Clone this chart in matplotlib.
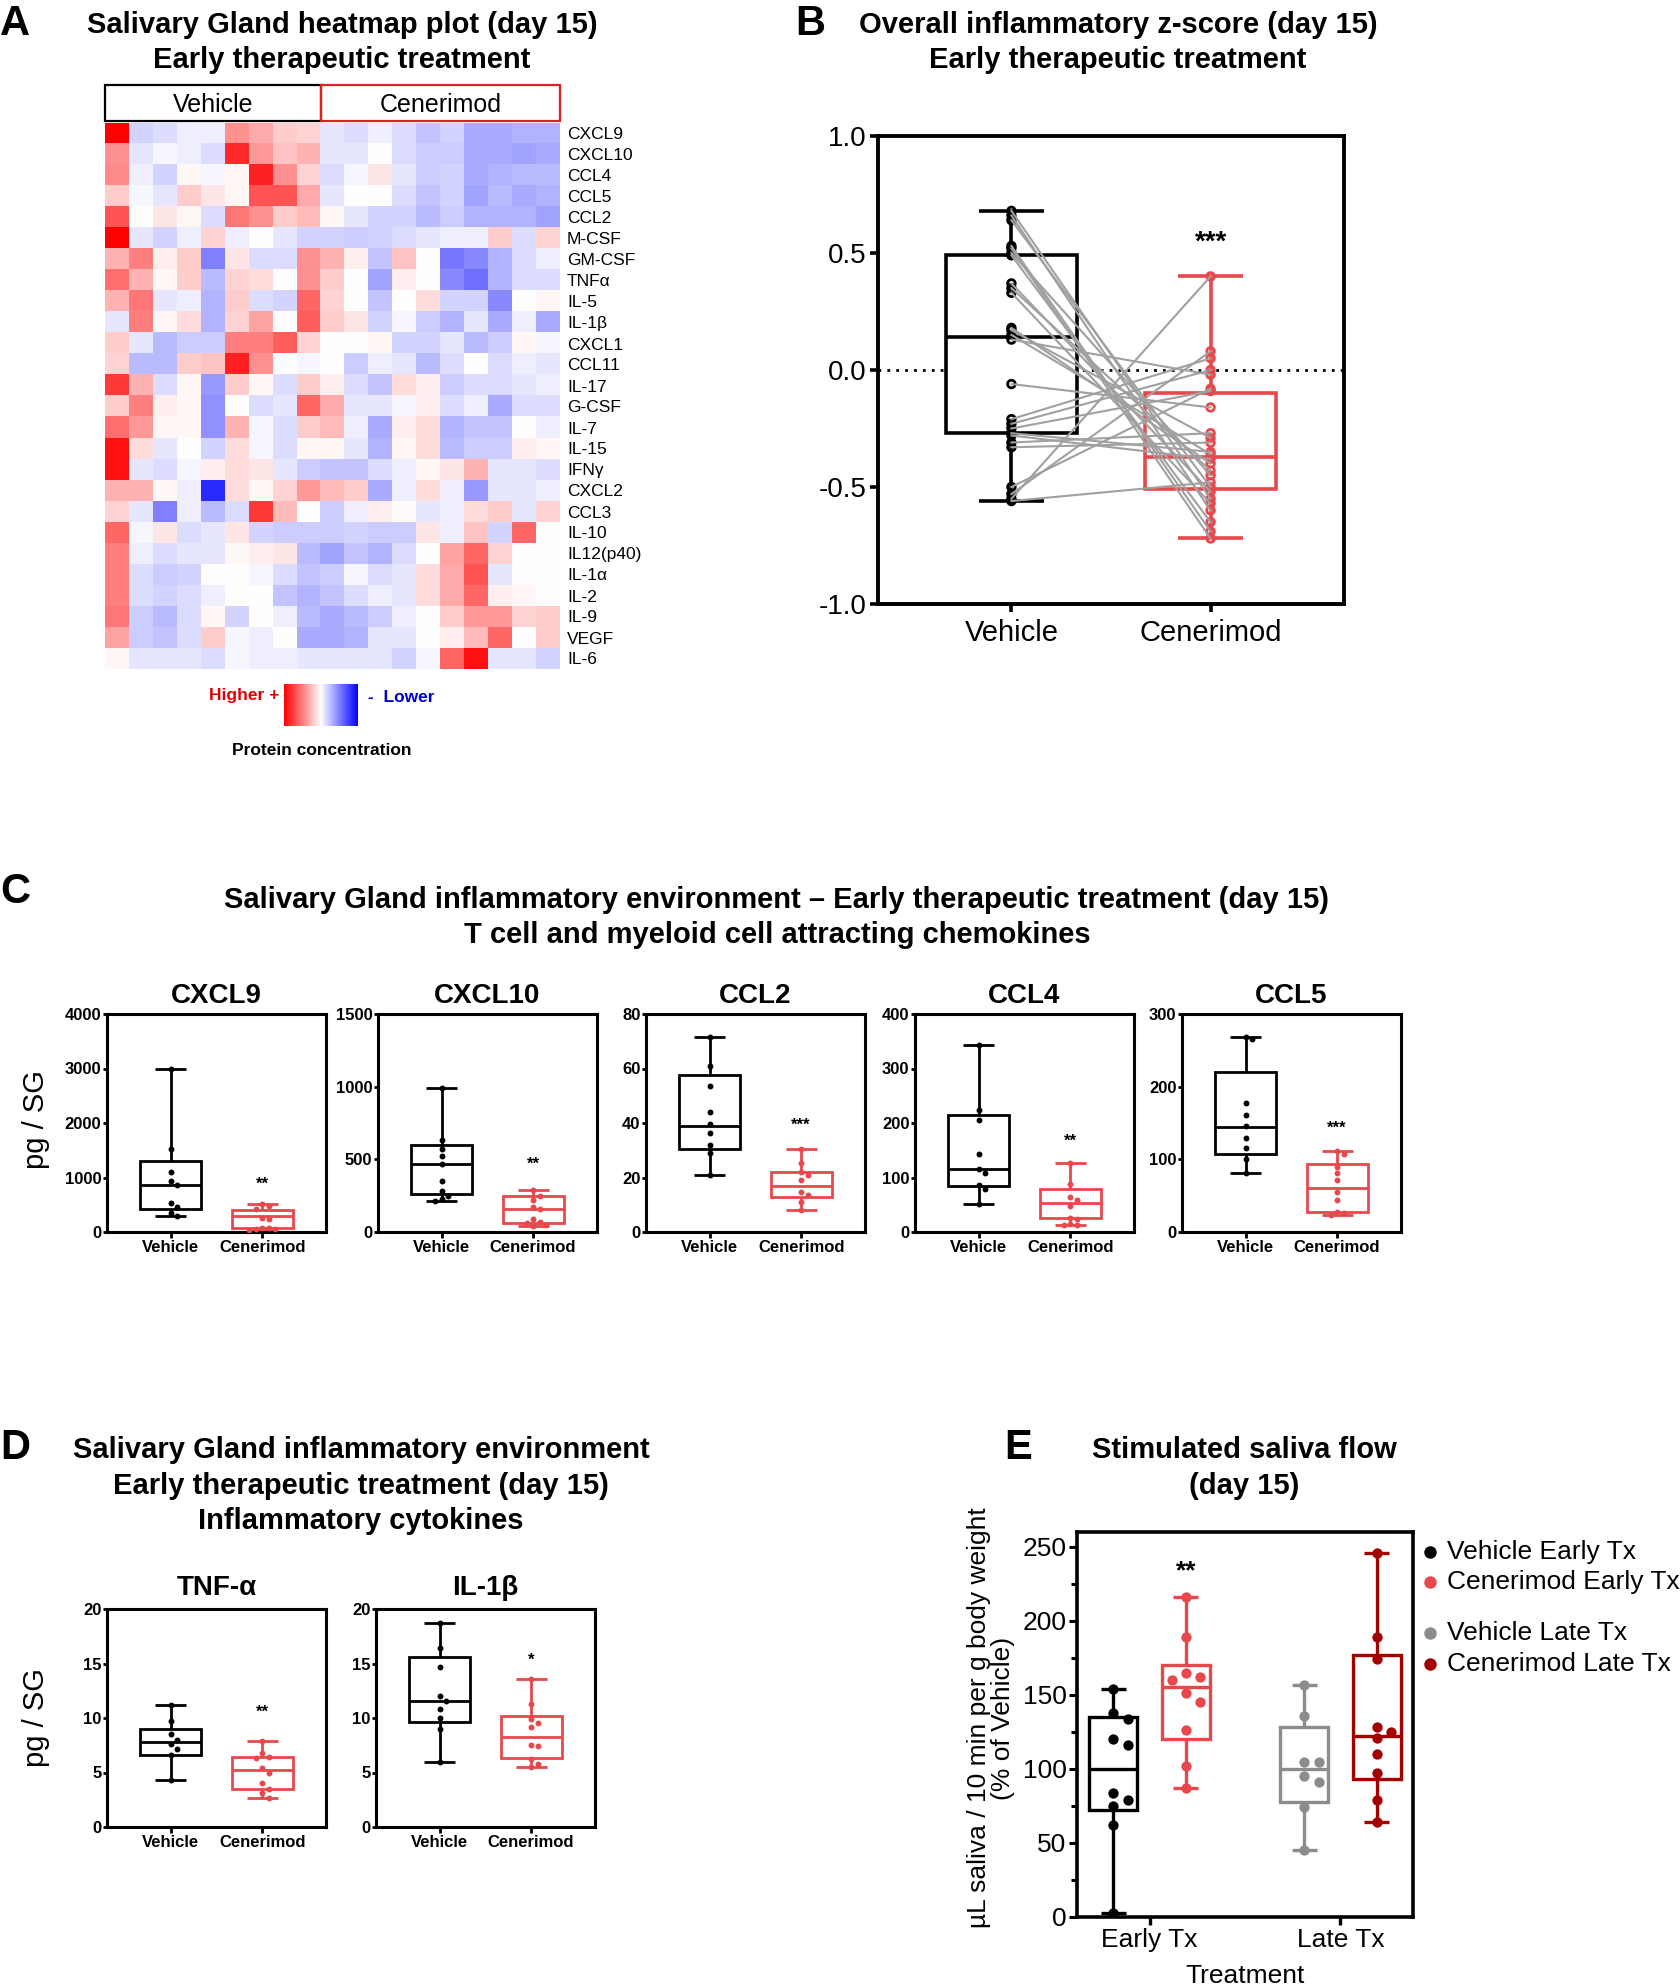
# -*- coding: utf-8 -*-
import numpy as np
import matplotlib
matplotlib.use("Agg")
import matplotlib.pyplot as plt
from matplotlib.colors import LinearSegmentedColormap
from matplotlib.patches import Rectangle
from matplotlib.ticker import MultipleLocator

plt.rcParams['font.family'] = ['Liberation Sans', 'DejaVu Sans']
plt.rcParams['axes.unicode_minus'] = False

# --- DATA: heatmap (z-score like values, red = higher) ---
heat_rows = ['CXCL9', 'CXCL10', 'CCL4', 'CCL5', 'CCL2', 'M-CSF', 'GM-CSF', 'TNFα', 'IL-5',
             'IL-1β', 'CXCL1', 'CCL11', 'IL-17', 'G-CSF', 'IL-7', 'IL-15', 'IFNγ', 'CXCL2',
             'CCL3', 'IL-10', 'IL12(p40)', 'IL-1α', 'IL-2', 'IL-9', 'VEGF', 'IL-6']
n_vehicle_cols = 9
heat = [
    [3.0, -0.5, -0.4, -0.2, -0.2, 1.3, 1.0, 0.6, 0.5, -0.3, -0.4, -0.2, -0.4, -0.7, -0.5, -1.0, -1.0, -0.9, -0.9],
    [1.3, -0.3, -0.1, -0.2, -0.4, 2.5, 1.2, 0.7, 0.9, -0.3, -0.3, 0.0, -0.4, -0.6, -0.6, -1.0, -1.0, -1.1, -1.0],
    [1.4, -0.2, -0.5, 0.1, -0.1, 0.1, 2.6, 1.3, 0.5, -0.4, -0.1, 0.3, -0.3, -0.6, -0.5, -1.0, -0.9, -0.8, -0.8],
    [0.6, -0.1, -0.3, 0.6, 0.3, 0.1, 2.0, 2.0, 1.0, -0.3, 0.0, 0.0, -0.4, -0.7, -0.5, -1.1, -0.8, -1.0, -0.9],
    [2.0, 0.0, 0.3, 0.1, -0.4, 1.6, 1.3, 0.6, 0.8, 0.1, -0.3, -0.5, -0.5, -0.8, -0.6, -0.9, -0.9, -0.9, -1.1],
    [3.0, -0.3, -0.5, -0.2, 0.5, -0.2, 0.0, -0.3, -0.5, -0.5, -0.6, -0.5, -0.4, -0.3, -0.2, -0.2, 0.6, -0.4, 0.5],
    [0.9, 1.5, 0.2, 0.6, -1.5, 0.3, -0.4, -0.4, 1.3, 0.9, 0.2, -0.7, 0.7, 0.0, -1.6, -1.4, -0.9, -0.4, -0.2],
    [1.7, 0.9, 0.1, 0.6, -0.8, 0.5, 0.4, 0.0, 1.3, 0.6, 0.0, -1.1, 0.2, 0.0, -1.4, -1.7, -0.9, -0.4, -0.4],
    [0.9, 1.6, -0.3, -0.2, -0.9, 0.6, -0.4, -0.5, 1.8, 0.5, 0.0, -0.7, 0.0, 0.4, -0.5, -0.5, -1.4, 0.0, 0.1],
    [-0.3, 1.5, 0.1, 0.4, -0.9, 0.5, 1.1, 0.0, 1.9, 0.6, 0.3, -0.5, -0.1, -0.6, -0.9, -0.3, -1.0, -0.2, -1.0],
    [0.6, -0.3, -0.8, -0.6, -0.6, 1.5, 1.5, 1.9, 0.5, 0.0, 0.0, 0.1, -0.5, -0.5, -0.3, -0.8, -0.6, 0.1, -0.1],
    [0.5, -0.8, -0.8, 0.6, 0.7, 2.6, 1.3, 0.0, -0.1, 0.0, -0.6, -0.2, -0.3, -0.8, -0.4, 0.0, -0.4, -0.2, -0.3],
    [2.3, 0.9, -0.4, 0.1, -1.2, 0.6, 0.1, -0.4, 0.6, 0.2, -0.4, -0.7, 0.4, 0.2, -0.6, -0.4, -0.4, -0.3, -0.2],
    [0.6, 1.5, 0.2, 0.1, -1.3, 0.0, -0.4, -0.3, 1.8, 1.0, -0.3, -0.3, -0.1, 0.2, -0.4, -0.2, -1.0, -0.4, -0.4],
    [1.7, 1.2, 0.1, 0.1, -1.3, 0.9, -0.1, -0.4, 0.6, 0.8, -0.2, -1.0, 0.2, 0.4, -0.9, -0.7, -0.7, 0.0, -0.2],
    [2.8, 0.4, -0.3, 0.0, -0.5, 0.4, -0.1, -0.4, 0.1, 0.1, -0.3, -0.9, 0.1, 0.4, -0.8, -0.6, -0.6, 0.2, 0.1],
    [2.8, -0.3, -0.4, -0.1, 0.2, 0.4, 0.3, -0.3, -0.6, -0.7, -0.7, -0.4, -0.2, 0.1, 0.3, 0.9, -0.3, -0.3, -0.4],
    [0.9, 0.9, 0.1, -0.2, -2.5, 0.4, 0.1, 0.5, 1.2, 0.8, 0.6, -1.0, -0.2, 0.4, -0.2, -1.2, -0.3, -0.3, -0.2],
    [0.5, -0.3, -1.5, -0.2, -0.8, -0.4, 2.3, 0.8, 0.0, -0.6, -0.2, 0.2, 0.05, -0.3, -0.2, 0.4, 0.6, -0.3, 0.5],
    [1.8, -0.1, 0.3, -0.4, -0.3, 0.3, -0.5, -0.6, -0.6, -0.6, -0.5, -0.6, -0.6, 0.3, -0.2, 0.7, -0.5, 1.8, 0.0],
    [1.5, -0.2, -0.4, -0.3, -0.3, 0.1, 0.2, 0.3, -0.8, -1.1, -0.7, -0.9, -0.4, 0.0, 1.1, 1.8, 0.5, 0.0, 0.0],
    [1.5, -0.4, -0.6, -0.5, 0.0, 0.0, -0.1, -0.4, -0.7, -0.6, -0.1, -0.4, -0.3, 0.4, 1.0, 2.0, -0.3, 0.0, 0.0],
    [1.5, -0.4, -0.5, -0.4, -0.2, 0.0, 0.0, -0.7, -0.9, -0.7, -0.4, -0.2, -0.3, 0.4, 1.0, 1.8, 0.2, 0.1, 0.0],
    [1.6, -0.6, -0.8, -0.4, 0.1, -0.5, 0.0, -0.2, -0.8, -1.0, -0.8, -0.6, -0.2, 0.0, 0.6, 1.2, 1.2, 0.5, 0.6],
    [1.1, -0.6, -0.7, -0.4, 0.6, -0.1, -0.2, 0.0, -1.0, -1.0, -0.9, -0.3, -0.3, 0.0, 0.2, 0.8, 1.8, 0.0, 0.6],
    [0.1, -0.3, -0.3, -0.3, -0.4, -0.1, -0.2, -0.2, -0.3, -0.3, -0.3, -0.3, -0.5, -0.1, 1.8, 2.8, -0.3, -0.3, -0.5],
]

# --- DATA: panel B, paired z-scores (same order = same animal) ---
z_vehicle = [0.68, 0.66, 0.64, 0.53, 0.52, 0.50, 0.49, 0.37, 0.35, 0.33, 0.18, 0.17, 0.15,
             0.13, -0.06, -0.21, -0.23, -0.25, -0.27, -0.28, -0.31, -0.33, -0.50, -0.53, -0.55, -0.56]
z_cenerimod = [-0.55, -0.60, -0.50, -0.69, -0.72, -0.45, -0.65, -0.52, -0.43, -0.57, -0.40, -0.29, -0.36,
               -0.02, -0.16, 0.05, 0.00, -0.09, -0.35, -0.38, -0.27, -0.31, -0.08, 0.08, 0.40, -0.48]
z_box = [(-0.27, 0.14, 0.49), (-0.51, -0.37, -0.10)]  # q1, median, q3

# --- DATA: panel C chemokines (pg / SG) ---
chemo_names = ['CXCL9', 'CXCL10', 'CCL2', 'CCL4', 'CCL5']
chemo_vehicle = [
    [3000, 1530, 1100, 930, 870, 530, 460, 350, 300],
    [990, 630, 570, 520, 470, 350, 280, 250, 230, 215],
    [71.5, 61, 53.5, 44, 39.5, 36.5, 32, 29, 21],
    [343, 224, 206, 144, 115, 109, 87, 79, 52],
    [269, 265, 178, 161, 146, 129, 115, 101, 81],
]
chemo_cenerimod = [
    [520, 480, 420, 260, 230, 80, 70, 60, 50, 40],
    [290, 250, 220, 170, 160, 90, 70, 60, 50, 40],
    [30.5, 25.5, 22, 21, 19, 14.5, 13.5, 11, 8],
    [127, 88, 64, 59, 48, 26, 24, 14, 13, 12],
    [111, 107, 90, 81, 72, 55, 44, 27, 26, 24],
]
chemo_box_vehicle = [(430, 870, 1300), (260, 470, 600), (30.5, 39, 57.5), (85, 115, 215), (107, 145, 220)]
chemo_box_cenerimod = [(70, 290, 400), (60, 160, 250), (12.7, 17, 22.2), (25, 53, 78), (27, 61, 93)]
chemo_ymax = [4000, 1500, 80, 400, 300]
chemo_ystep = [1000, 500, 20, 100, 100]
chemo_stars = ['**', '**', '***', '**', '***']
chemo_star_y = [970, 500, 41, 176, 150]

# --- DATA: panel D cytokines (pg / SG) ---
cyto_names = ['TNF-α', 'IL-1β']
cyto_vehicle = [[11.2, 9.7, 8.5, 8.0, 7.6, 7.2, 6.6, 4.3],
                [18.7, 16.4, 14.7, 12.0, 11.6, 10.8, 10.0, 9.0, 6.0]]
cyto_cenerimod = [[7.9, 6.8, 6.4, 6.3, 5.4, 5.0, 4.0, 3.5, 3.1, 2.7],
                  [13.6, 11.3, 9.9, 9.5, 9.2, 7.5, 7.4, 6.2, 5.8, 5.5]]
cyto_box_vehicle = [(6.6, 7.8, 9.0), (9.6, 11.6, 15.6)]
cyto_box_cenerimod = [(3.5, 5.2, 6.4), (6.3, 8.3, 10.2)]
cyto_stars = ['**', '*']
cyto_star_y = [11.0, 15.7]

# --- DATA: panel E saliva flow (% of vehicle) ---
flow_groups = ['Vehicle Early Tx', 'Cenerimod Early Tx', 'Vehicle Late Tx', 'Cenerimod Late Tx']
flow_values = [
    [154, 138, 134, 120, 116, 84, 79, 75, 62, 3],
    [216, 189, 165, 162, 160, 151, 145, 126, 102, 87],
    [157, 136, 105, 105, 95, 91, 74, 45],
    [246, 189, 174, 128, 125, 121, 110, 97, 79, 64],
]
flow_box = [(72, 100, 135), (120, 155, 170), (78, 100, 128), (93, 122, 177)]
flow_treatment = ['Early Tx', 'Late Tx']

RED = '#e8474c'
DARKRED = '#a40000'
GREY = '#8c8c8c'
flow_colors = ['black', RED, GREY, DARKRED]

# --- FIGURE ---
W, H = 1680, 1988
PX = 100 / 72.0
fig = plt.figure(figsize=(W / 100, H / 100), dpi=100)


def px_axes(l, t, w, h):
    return fig.add_axes([l / W, 1 - (t + h) / H, w / W, h / H])


over = px_axes(0, 0, W, H)
over.set_xlim(0, W)
over.set_ylim(H, 0)
over.axis('off')


def label(x, yc, s, size, weight='bold', ha='center', **kw):
    # yc = vertical centre of the capitals (pixels from top)
    over.text(x, yc + 0.716 * size * PX / 2, s, fontsize=size, fontweight=weight,
              ha=ha, va='baseline', **kw)


def star(ax, x, y, s, size):
    ax.annotate(s, (x, y), xytext=(0, -0.56 * size), textcoords='offset points',
                ha='center', va='baseline', fontsize=size, fontweight='bold')


def swarm(vals, pos, d, thr):
    placed, xs = [], []
    cands = [0.0]
    for i in range(1, 6):
        cands += [i * d, -i * d]
    for v in vals:
        for off in cands:
            if all(abs(v - pv) >= thr or abs(off - po) >= d * 0.99 for pv, po in placed):
                break
        placed.append((v, off))
        xs.append(pos + off)
    return xs


def draw_box(ax, vals, box, pos, col, width, capw, lw, face='none', zorder=2):
    st = dict(whislo=min(vals), q1=box[0], med=box[1], q3=box[2], whishi=max(vals), fliers=[])
    line = dict(color=col, linewidth=lw, solid_capstyle='butt')
    ax.bxp([st], positions=[pos], widths=width, capwidths=capw, showfliers=False,
           patch_artist=True, manage_ticks=False, zorder=zorder,
           boxprops=dict(facecolor=face, edgecolor=col, linewidth=lw),
           whiskerprops=line, capprops=line, medianprops=line)


# ================= A: heatmap =================
label(0, 20, 'A', 30, ha='left')
label(342, 23, 'Salivary Gland heatmap plot (day 15)', 21)
label(342, 58, 'Early therapeutic treatment', 21)

cmap = LinearSegmentedColormap.from_list('bwr_rev', ['#0000ff', '#ffffff', '#ff0000'])
axh = px_axes(105, 85, 455, 36)
n_cols = len(heat[0])
axh.set_xlim(0, n_cols)
axh.set_ylim(0, 1)
axh.axis('off')
axh.add_patch(Rectangle((0, 0), n_vehicle_cols, 1, fill=False, ec='black', lw=1.6, clip_on=False))
axh.add_patch(Rectangle((n_vehicle_cols, 0), n_cols - n_vehicle_cols, 1, fill=False, ec='#e02020',
                        lw=1.6, clip_on=False))
axh.text(n_vehicle_cols / 2, 0.45, 'Vehicle', ha='center', va='center', fontsize=18)
axh.text((n_vehicle_cols + n_cols) / 2, 0.45, 'Cenerimod', ha='center', va='center', fontsize=18)

axA = px_axes(105, 123, 455, 546)
axA.imshow(np.array(heat), cmap=cmap, vmin=-3, vmax=3, aspect='auto', interpolation='nearest')
axA.set_xticks([])
axA.set_yticks(range(len(heat_rows)))
axA.set_yticklabels(heat_rows, fontsize=12.5)
axA.yaxis.tick_right()
axA.tick_params(length=0, pad=5)
for s in axA.spines.values():
    s.set_visible(False)

axg = px_axes(284, 684, 73, 42)
axg.imshow(np.linspace(3, -3, 256).reshape(1, -1), cmap=cmap, vmin=-3, vmax=3, aspect='auto')
axg.axis('off')
label(279, 694, 'Higher +', 12.5, ha='right', color='#e00000')
label(368, 696, '-  Lower', 12.5, ha='left', color='#0000d0')
label(322, 749, 'Protein concentration', 12.5)

# ================= B: paired z-score =================
label(795, 20, 'B', 30, ha='left')
label(1118, 23, 'Overall inflammatory z-score (day 15)', 21)
label(1118, 58, 'Early therapeutic treatment', 21)

axB = px_axes(878, 136, 466, 468)
axB.set_xlim(0.33, 2.67)
axB.set_ylim(-1, 1)
axB.axhline(0, color='black', lw=2.0, ls=(0, (1, 2.2)), zorder=1)
draw_box(axB, z_vehicle, z_box[0], 1, 'black', 0.66, 0.33, 2.6, face='white', zorder=2)
draw_box(axB, z_cenerimod, z_box[1], 2, RED, 0.66, 0.33, 2.6, face='white', zorder=2)
for v, c in zip(z_vehicle, z_cenerimod):
    axB.plot([1, 2], [v, c], color='#a0a0a0', lw=1.5, zorder=4)
axB.scatter([1] * len(z_vehicle), z_vehicle, s=30, facecolor='none', edgecolor='black', lw=2, zorder=3)
axB.scatter([2] * len(z_cenerimod), z_cenerimod, s=30, facecolor='none', edgecolor=RED, lw=2, zorder=3)
star(axB, 2, 0.58, '***', 20)
axB.set_yticks([-1, -0.5, 0, 0.5, 1])
axB.set_yticklabels(['-1.0', '-0.5', '0.0', '0.5', '1.0'], fontsize=20)
axB.set_xticks([1, 2])
axB.set_xticklabels(['Vehicle', 'Cenerimod'], fontsize=21)
axB.tick_params(axis='y', direction='out', length=6, width=2.6, pad=2)
axB.tick_params(axis='x', direction='out', length=6, width=2.6, pad=5)
for s in axB.spines.values():
    s.set_linewidth(2.8)


def two_group(ax, veh, cen, bveh, bcen, ymax, ystep, title, st, st_y, title_pad):
    ax.set_xlim(0.3, 2.7)
    ax.set_ylim(0, ymax)
    thr = 0.028 * ymax
    for pos, vals, bx, col in [(1, veh, bveh, 'black'), (2, cen, bcen, RED)]:
        draw_box(ax, vals, bx, pos, col, 0.67, 0.34, 2.0)
        ax.scatter(swarm(vals, pos, 0.07, thr), vals, s=18, color=col, lw=0, zorder=3)
    star(ax, 2, st_y, st, 12)
    ax.set_yticks(np.arange(0, ymax + ystep / 2, ystep))
    ax.set_xticks([1, 2])
    ax.set_xticklabels(['Vehicle', 'Cenerimod'])
    ax.tick_params(axis='y', direction='out', length=3, width=2, pad=1, labelsize=12)
    ax.tick_params(axis='x', direction='out', length=4, width=2, pad=2, labelsize=12)
    for lbl in ax.get_xticklabels() + ax.get_yticklabels():
        lbl.set_fontweight('bold')
    for s in ax.spines.values():
        s.set_linewidth(2.2)
    ax.set_title(title, fontsize=20, fontweight='bold', pad=title_pad)


# ================= C: chemokines =================
label(0, 888, 'C', 30, ha='left')
label(777, 898, 'Salivary Gland inflammatory environment – Early therapeutic treatment (day 15)', 21)
label(777, 933, 'T cell and myeloid cell attracting chemokines', 21)
c_lefts = [107, 378, 646, 915, 1182]
for i, name in enumerate(chemo_names):
    ax = px_axes(c_lefts[i], 1014, 219, 218)
    two_group(ax, chemo_vehicle[i], chemo_cenerimod[i], chemo_box_vehicle[i], chemo_box_cenerimod[i],
              chemo_ymax[i], chemo_ystep[i], name, chemo_stars[i], chemo_star_y[i], 8)
over.text(36, 1120, 'pg / SG', rotation=90, fontsize=21, ha='center', va='center')

# ================= D: cytokines =================
label(0, 1444, 'D', 30, ha='left')
label(361, 1448, 'Salivary Gland inflammatory environment', 21)
label(361, 1484, 'Early therapeutic treatment (day 15)', 21)
label(361, 1519, 'Inflammatory cytokines', 21)
d_lefts = [107, 376]
for i, name in enumerate(cyto_names):
    ax = px_axes(d_lefts[i], 1609, 219, 218)
    two_group(ax, cyto_vehicle[i], cyto_cenerimod[i], cyto_box_vehicle[i], cyto_box_cenerimod[i],
              20, 5, name, cyto_stars[i], cyto_star_y[i], 10)
over.text(36, 1718, 'pg / SG', rotation=90, fontsize=21, ha='center', va='center')

# ================= E: saliva flow =================
label(1004, 1444, 'E', 30, ha='left')
label(1244, 1448, 'Stimulated saliva flow', 21)
label(1244, 1484, '(day 15)', 21)

axE = px_axes(1077, 1532, 336, 385)
axE.set_xlim(-0.38, 1.38)
axE.set_ylim(0, 260)
flow_pos = [-0.19, 0.19, 0.81, 1.19]
for vals, bx, pos, col in zip(flow_values, flow_box, flow_pos, flow_colors):
    draw_box(axE, vals, bx, pos, col, 0.25, 0.13, 2.4)
    axE.scatter(swarm(vals, pos, 0.075, 7.0), vals, s=55, color=col, lw=0, zorder=3)
star(axE, flow_pos[1], 239, '**', 19)
axE.set_yticks(np.arange(0, 251, 50))
axE.yaxis.set_minor_locator(MultipleLocator(25))
axE.set_xticks([0, 1])
axE.set_xticklabels(flow_treatment)
axE.tick_params(axis='y', which='major', direction='out', length=6, width=2.2, pad=1.5, labelsize=19)
axE.tick_params(axis='y', which='minor', direction='out', length=4, width=2.2)
axE.tick_params(axis='x', direction='out', length=6, width=2.4, pad=2, labelsize=19)
for s in axE.spines.values():
    s.set_linewidth(2.6)
over.text(1245, 1976, 'Treatment', fontsize=19, ha='center', va='center')
over.text(991, 1718, 'µL saliva / 10 min per g body weight\n(% of Vehicle)', rotation=90,
          fontsize=19, ha='center', va='center', multialignment='center', linespacing=1.05)

leg_y = [1552, 1582, 1633, 1664]
for name, col, y in zip(flow_groups, flow_colors, leg_y):
    over.plot([1430], [y], 'o', ms=9, color=col, mew=0)
    over.text(1447, y, name, fontsize=19, ha='left', va='center')

fig.savefig('out.png', dpi=100)
